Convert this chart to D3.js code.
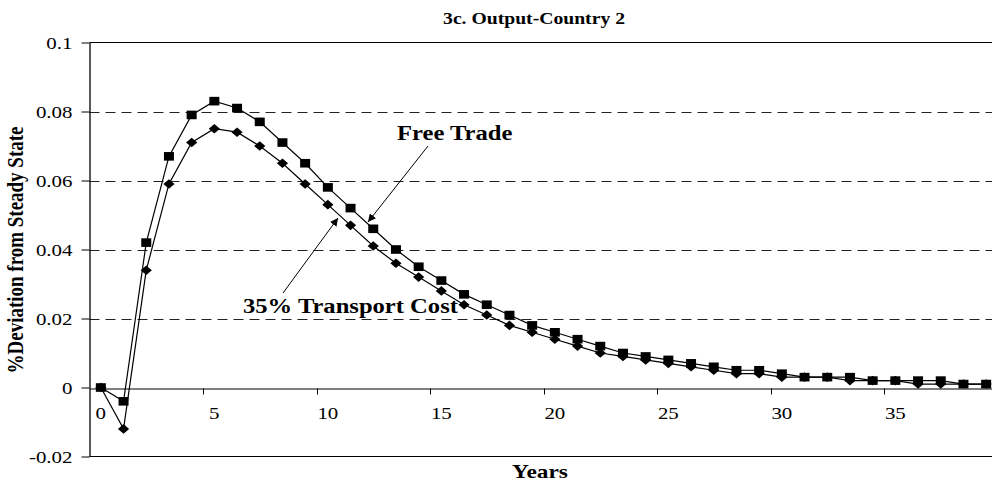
<!DOCTYPE html>
<html>
<head>
	<meta charset="UTF-8">
	<title>3c. Output-Country 2</title>
	<script type="text/javascript" src="https://cdnjs.cloudflare.com/ajax/libs/d3/7.8.5/d3.min.js"></script>
	<style>
		body { margin: 0; background: #fff; }
		svg { display: block; }
		text { font-family: "Liberation Serif", "Times New Roman", serif; fill: #000; }
	</style>
</head>
<body>
	<div id="chart"></div>

	<script type="text/javascript">
	// years after the shock
	var years = [0, 1, 2, 3, 4, 5, 6, 7, 8, 9, 10, 11, 12, 13, 14, 15, 16, 17, 18, 19,
		20, 21, 22, 23, 24, 25, 26, 27, 28, 29, 30, 31, 32, 33, 34, 35, 36, 37, 38, 39];
	var yearLabels = [0, 5, 10, 15, 20, 25, 30, 35];

	// square markers
	var freeTrade = [0, -0.004, 0.042, 0.067, 0.079, 0.083, 0.081, 0.077, 0.071, 0.065,
		0.058, 0.052, 0.046, 0.040, 0.035, 0.031, 0.027, 0.024, 0.021, 0.018,
		0.016, 0.014, 0.012, 0.010, 0.009, 0.008, 0.007, 0.006, 0.005, 0.005,
		0.004, 0.003, 0.003, 0.003, 0.002, 0.002, 0.002, 0.002, 0.001, 0.001];

	// diamond markers
	var transportCost = [0, -0.012, 0.034, 0.059, 0.071, 0.075, 0.074, 0.070, 0.065, 0.059,
		0.053, 0.047, 0.041, 0.036, 0.032, 0.028, 0.024, 0.021, 0.018, 0.016,
		0.014, 0.012, 0.010, 0.009, 0.008, 0.007, 0.006, 0.005, 0.004, 0.004,
		0.003, 0.003, 0.003, 0.002, 0.002, 0.002, 0.001, 0.001, 0.001, 0.001];

	var yTicks = [-0.02, 0, 0.02, 0.04, 0.06, 0.08, 0.1];
	var gridTicks = [0.02, 0.04, 0.06, 0.08];

	function init_visual()
	{
		var width = 992;
		var height = 485;
		var stretch = 1.23; // the original picture is a bit wider than tall

		var svg = d3.select("#chart").append("svg")
			.attr("width", width)
			.attr("height", height);

		var plotLeft = 89.5;
		var plotRight = 997.5;
		var plotTop = 42.5;
		var plotBottom = 456.5;

		var x = d3.scaleBand()
			.domain(years)
			.range([plotLeft, plotRight])
			.padding(0);
		var y = d3.scaleLinear()
			.domain([-0.02, 0.1])
			.range([plotBottom, plotTop]);

		function cx(i) { return x(i) + x.bandwidth() / 2; }

		// text helper, glyphs widened like the source
		function label(tx, ty, str, size, bold, anchor)
		{
			return svg.append("text")
				.attr("transform", "translate(" + tx + "," + ty + ") scale(" + stretch + ",1)")
				.attr("text-anchor", anchor || "start")
				.style("font-size", size + "px")
				.style("font-weight", bold ? "bold" : "normal")
				.text(str);
		}

		// dashed gridlines
		svg.append("g").selectAll("line")
			.data(gridTicks)
			.enter().append("line")
			.attr("x1", plotLeft)
			.attr("x2", plotRight)
			.attr("y1", function(d) { return Math.round(y(d)) + 0.5; })
			.attr("y2", function(d) { return Math.round(y(d)) + 0.5; })
			.attr("stroke", "#222")
			.attr("stroke-width", 1)
			.attr("stroke-dasharray", "10,6");

		// plot border top / bottom
		svg.append("line")
			.attr("x1", plotLeft).attr("x2", plotRight)
			.attr("y1", plotTop).attr("y2", plotTop)
			.attr("stroke", "#000");
		svg.append("line")
			.attr("x1", plotLeft).attr("x2", plotRight)
			.attr("y1", plotBottom).attr("y2", plotBottom)
			.attr("stroke", "#000");

		// y axis
		var yAxis = svg.append("g")
			.attr("transform", "translate(" + plotLeft + ",0)")
			.call(d3.axisLeft(y)
				.tickValues(yTicks)
				.tickSize(8)
				.tickSizeOuter(0)
				.tickFormat(function(d) { return d === 0 ? "0" : String(+d.toFixed(2)); }));
		yAxis.select(".domain").attr("stroke", "#000").attr("stroke-width", 1.3);
		yAxis.selectAll(".tick line").attr("stroke", "#000");
		yAxis.selectAll(".tick text")
			.attr("x", null)
			.attr("dy", null)
			.attr("transform", "translate(-17,6) scale(" + stretch + ",1)")
			.style("font-family", "'Liberation Serif', serif")
			.style("font-size", "17px");

		// x axis sits on the zero line
		var zeroY = Math.round(y(0)) + 0.5;
		var xAxis = svg.append("g")
			.attr("transform", "translate(0," + zeroY + ")")
			.call(d3.axisBottom(x)
				.tickValues(yearLabels)
				.tickSize(0)
				.tickSizeOuter(0));
		xAxis.select(".domain").attr("stroke", "#000").attr("stroke-width", 1.2);
		xAxis.selectAll(".tick text")
			.attr("y", null)
			.attr("dy", null)
			.attr("transform", "translate(0,30) scale(" + stretch + ",1)")
			.style("font-family", "'Liberation Serif', serif")
			.style("font-size", "17px");

		// tick marks between categories every 5 years
		xAxis.selectAll(".boundary")
			.data(yearLabels.slice(1))
			.enter().append("line")
			.classed("boundary", true)
			.attr("x1", function(d) { return Math.round(x(d)) + 0.5; })
			.attr("x2", function(d) { return Math.round(x(d)) + 0.5; })
			.attr("y1", 0)
			.attr("y2", 6)
			.attr("stroke", "#000");

		// series lines
		var line = d3.line()
			.x(function(d, i) { return cx(years[i]); })
			.y(function(d) { return y(d); });

		svg.append("path")
			.datum(freeTrade)
			.attr("d", line)
			.attr("fill", "none")
			.attr("stroke", "#000")
			.attr("stroke-width", 1.2);
		svg.append("path")
			.datum(transportCost)
			.attr("d", line)
			.attr("fill", "none")
			.attr("stroke", "#000")
			.attr("stroke-width", 1.2);

		// square markers
		svg.append("g").selectAll("rect")
			.data(freeTrade)
			.enter().append("rect")
			.attr("x", function(d, i) { return cx(years[i]) - 5; })
			.attr("y", function(d) { return y(d) - 4.3; })
			.attr("width", 10)
			.attr("height", 8.6)
			.attr("fill", "#000");

		// diamond markers
		svg.append("g").selectAll("path")
			.data(transportCost)
			.enter().append("path")
			.attr("transform", function(d, i) { return "translate(" + cx(years[i]) + "," + y(d) + ")"; })
			.attr("d", "M0,-4.8L5.6,0L0,4.8L-5.6,0Z")
			.attr("fill", "#000");

		// annotation arrows
		var defs = svg.append("defs");
		defs.append("marker")
			.attr("id", "head")
			.attr("viewBox", "0 0 10 10")
			.attr("refX", 10)
			.attr("refY", 5)
			.attr("markerWidth", 8)
			.attr("markerHeight", 8)
			.attr("markerUnits", "userSpaceOnUse")
			.attr("orient", "auto")
			.append("path")
			.attr("d", "M0,0L10,5L0,10Z")
			.attr("fill", "#000");

		svg.append("line")
			.attr("x1", 428).attr("y1", 146)
			.attr("x2", 368).attr("y2", 222)
			.attr("stroke", "#000")
			.attr("stroke-width", 1)
			.attr("marker-end", "url(#head)");
		svg.append("line")
			.attr("x1", 283).attr("y1", 293)
			.attr("x2", 338).attr("y2", 218)
			.attr("stroke", "#000")
			.attr("stroke-width", 1)
			.attr("marker-end", "url(#head)");

		label(397, 140, "Free Trade", 20, true);
		label(243, 313, "35% Transport Cost", 20, true);

		// titles
		label(534, 24, "3c. Output-Country 2", 16, true, "middle");
		label(540, 478, "Years", 19, true, "middle");

		svg.append("text")
			.attr("transform", "translate(23," + 250 + ") scale(" + stretch + ",1) rotate(-90)")
			.attr("text-anchor", "middle")
			.style("font-size", "19px")
			.style("font-weight", "bold")
			.text("%Deviation from Steady State");
	}

	init_visual();
	</script>
</body>
</html>
